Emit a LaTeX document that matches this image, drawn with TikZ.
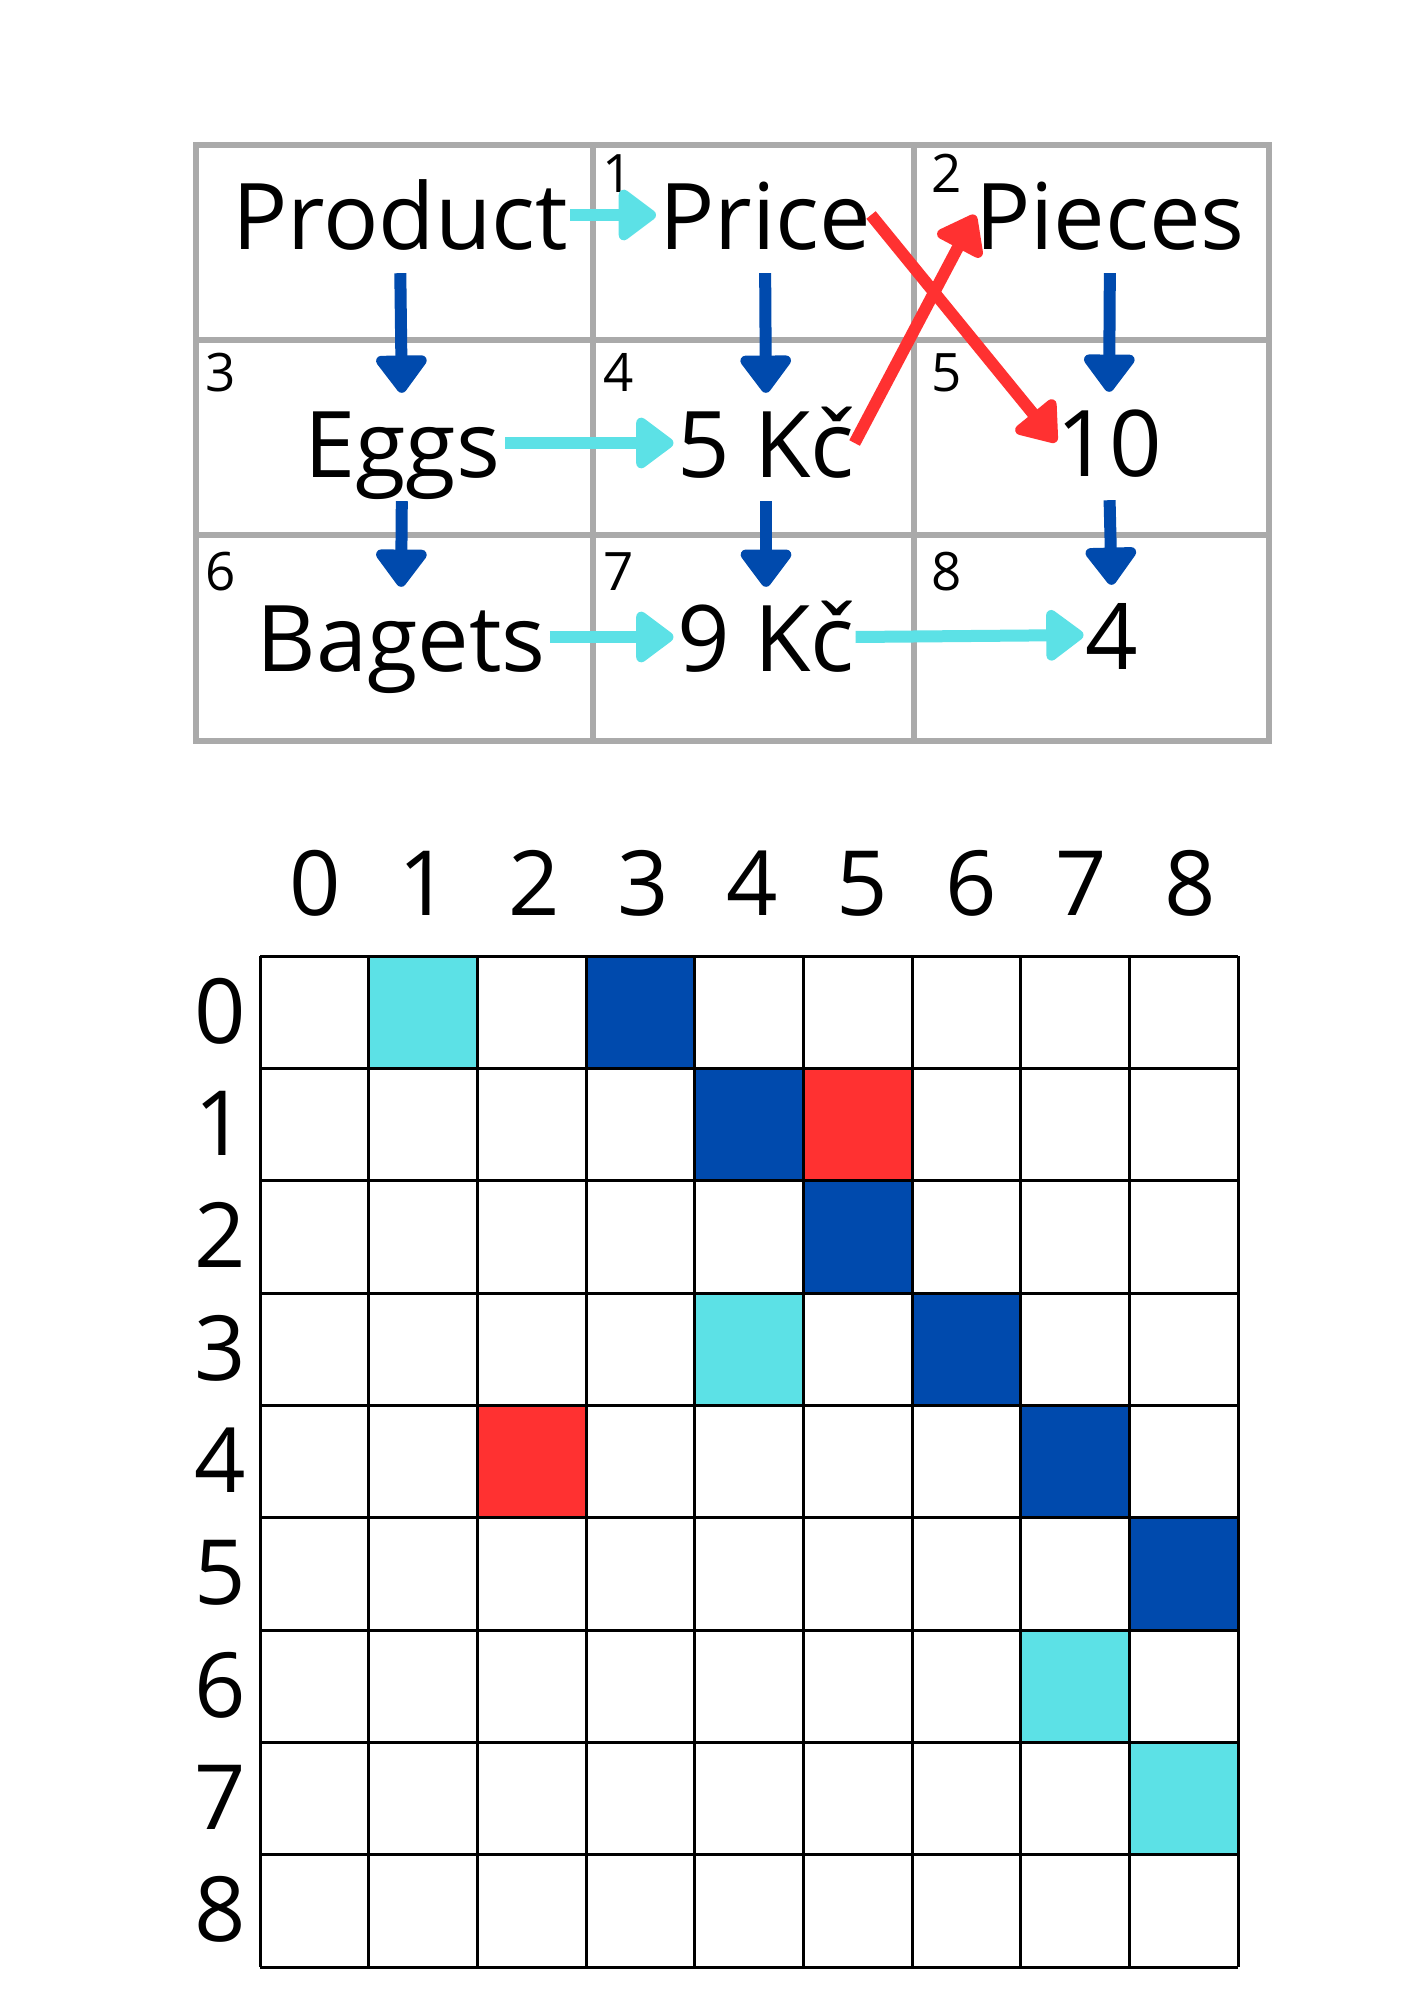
\documentclass[tikz,border=0pt]{standalone}
\usepackage{fontspec}
\setmainfont{Open Sans}
\usetikzlibrary{arrows.meta}
\definecolor{cy}{HTML}{5CE1E6}
\definecolor{bl}{HTML}{004AAD}
\definecolor{rd}{HTML}{FF3131}
\definecolor{gr}{HTML}{AAAAAA}
\begin{document}
\begin{tikzpicture}[x=1pt,y=-1pt,
  big/.style={font=\fontsize{92}{110}\selectfont, inner sep=0pt, text height=68pt, text depth=0pt, anchor=base},
  idx/.style={font=\fontsize{53}{64}\selectfont, inner sep=0pt, anchor=base},
  axl/.style={font=\fontsize{90}{108}\selectfont, inner sep=0pt, anchor=base},
  arr/.style={line width=12pt, -{Triangle[length=41pt,width=58pt,round]}},
  down/.style={arr, draw=bl, fill=bl, shorten <=24pt, shorten >=16pt},
  side/.style={arr, draw=cy, fill=cy},
  cross/.style={arr, draw=rd, fill=rd},
  tline/.style={draw=gr, line width=6pt},
  gline/.style={draw=black, line width=3pt}]
\fill[white] (0,0) rectangle (1414,2000);
\useasboundingbox (0,0) rectangle (1414,2000);

% table
\draw[tline] (195.5,145) rectangle (1269,741);
\draw[tline] (593,145) -- (593,741);
\draw[tline] (914,145) -- (914,741);
\draw[tline] (195.5,340) -- (1269,340);
\draw[tline] (195.5,534.5) -- (1269,534.5);

% cell indices
\node[idx] (i1) at (618,192) {1};
\node[idx] (i2) at (947,192) {2};
\node[idx] (i3) at (221,391) {3};
\node[idx] (i4) at (619,391) {4};
\node[idx] (i5) at (947,391) {5};
\node[idx] (i6) at (221,590) {6};
\node[idx] (i7) at (619,590) {7};
\node[idx] (i8) at (947,590) {8};

% cell texts
\node[big] (prod) at (400,249) {Product};
\node[big] (price) at (765,249) {Price};
\node[big] (pieces) at (1110,249) {Pieces};
\node[big] (eggs) at (402,477) {Eggs};
\node[big] (kc5) at (766,477) {5 Kč};
\node[big] (n10) at (1109,476) {10};
\node[big] (bag) at (401,671) {Bagets};
\node[big] (kc9) at (766,671) {9 Kč};
\node[big] (n4) at (1112,669) {4};

% arrows
\draw[down] (prod.south) -- (eggs.north);
\draw[down] (eggs.south) -- (bag.north);
\draw[down] (price.south) -- (kc5.north);
\draw[down] (kc5.south) -- (kc9.north);
\draw[down] (pieces.south) -- (n10.north);
\draw[down] (n10.south) -- (n4.north);
\draw[side, shorten <=2pt, shorten >=3pt] (prod.east) -- (price.west);
\draw[side, shorten <=5pt, shorten >=4pt] (eggs.east) -- (kc5.west);
\draw[side, shorten <=4pt, shorten >=4pt] (bag.east) -- (kc9.west);
\draw[side, shorten <=1pt, shorten >=2pt] (kc9.east) -- (n4.west);
\draw[cross] (price.east) -- (n10.west);
\draw[cross] (kc5.east) -- (pieces.west);

% matrix fills
\foreach \c/\r/\col in {1/0/cy,3/0/bl,4/1/bl,5/1/rd,5/2/bl,4/3/cy,6/3/bl,2/4/rd,7/4/bl,8/5/bl,7/6/cy,8/7/cy}
  \fill[\col] ({260+108.667*\c},{956+112.333*\r}) rectangle ++(108.667,112.333);
% matrix lines
\foreach \i in {0,...,9} {
  \draw[gline] ({260+108.667*\i},956) -- ++(0,1011);
  \draw[gline] (260,{956+112.333*\i}) -- ++(978,0);
}
% axis labels
\foreach \i in {0,...,8} {
  \node[axl] (c\i) at ({315+109.4*\i},915) {\i};
  \node[axl] (r\i) at (220,{956+112.333*(\i+0.5)+31}) {\i};
}
\end{tikzpicture}
\end{document}
